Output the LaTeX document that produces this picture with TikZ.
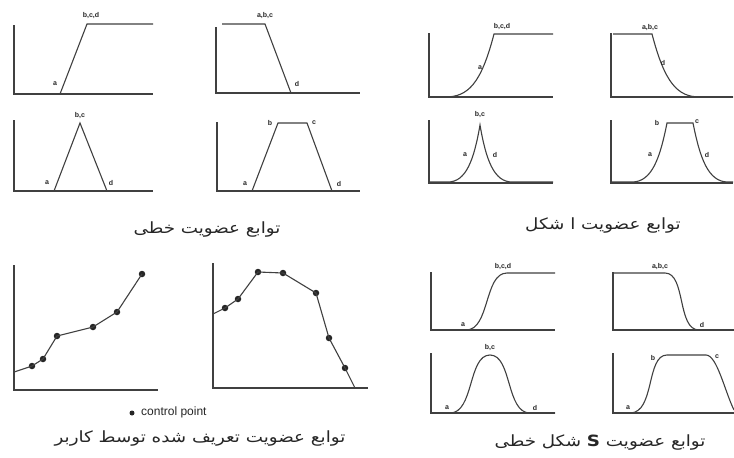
\documentclass[tikz,border=0pt]{standalone}
\usepackage{fontspec}
\usepackage{graphicx}
\setmainfont{Liberation Sans}
\newfontfamily\arabicfont[Script=Arabic]{DejaVu Sans}
\TeXXeTstate=1
\newcommand{\wcap}[1]{\scalebox{1.18}[1]{\beginR #1\endR}}
\begin{document}
\begin{tikzpicture}[x=1pt,y=-1pt,
  axis/.style={draw=black!75, line width=1.1pt},
  curve/.style={draw=black!75, line width=1.1pt},
  lbl/.style={font=\fontsize{7}{7}\selectfont\bfseries, inner sep=0pt, text=black!85},
  capt/.style={font=\arabicfont\fontsize{15.5}{17}\selectfont, inner sep=0pt, text=black!85},
  cp/.style={circle, fill=black!85, minimum size=6.5pt, inner sep=0pt}]
\useasboundingbox (0,0) rectangle (734,458);
\fill[white] (0,0) rectangle (734,458);
% ---------- A: linear ----------
\draw[axis] (14,25) -- (14,94) -- (153,94);
\draw[curve] (60,94) -- (87,24) -- (153,24);
\node[lbl] (a1t) at (91,16) {b,c,d};
\node[lbl] (a1a) at (55,84) {a};
\draw[axis] (216,27) -- (216,93) -- (360,93);
\draw[curve] (222,24) -- (265,24) -- (291,93);
\node[lbl] (a2t) at (265,16) {a,b,c};
\node[lbl] (a2d) at (297,84) {d};
\draw[axis] (14,120) -- (14,191) -- (153,191);
\draw[curve] (54,191) -- (80,123) -- (107,191);
\node[lbl] (a3t) at (80,116) {b,c};
\node[lbl] (a3a) at (47,183) {a};
\node[lbl] (a3d) at (111,183) {d};
\draw[axis] (217,122) -- (217,191) -- (360,191);
\draw[curve] (252,191) -- (278,123) -- (307,123) -- (332,191);
\node[lbl] (a4b) at (270,123) {b};
\node[lbl] (a4c) at (314,123) {c};
\node[lbl] (a4a) at (245,184) {a};
\node[lbl] (a4d) at (339,184) {d};
\node[capt] (capA) at (207,230) {\wcap{توابع عضویت خطی}};
% ---------- B: L-shaped ----------
\draw[axis] (429,33) -- (429,97) -- (553,97);
\draw[curve] (429,97) -- (445,97) .. controls (468,97) and (481,84) .. (494,34) -- (553,34);
\node[lbl] (b1t) at (502,27) {b,c,d};
\node[lbl] (b1a) at (480,68) {a};
\draw[axis] (611,33) -- (611,97) -- (733,97);
\draw[curve] (613,34) -- (652,34) .. controls (665,84) and (678,97) .. (700,97) -- (733,97);
\node[lbl] (b2t) at (650,28) {a,b,c};
\node[lbl] (b2d) at (663,63) {d};
\draw[axis] (429,120) -- (429,183) -- (553,183);
\draw[curve] (429,182) -- (448,182) .. controls (466,182) and (474,160) .. (480,125) .. controls (486,160) and (494,182) .. (512,182) -- (553,182);
\node[lbl] (b3t) at (480,115) {b,c};
\node[lbl] (b3a) at (465,155) {a};
\node[lbl] (b3d) at (495,155) {d};
\draw[axis] (611,120) -- (611,183) -- (733,183);
\draw[curve] (611,182) -- (632,182) .. controls (652,182) and (660,158) .. (667,123) -- (693,123) .. controls (700,158) and (708,182) .. (728,182) -- (733,182);
\node[lbl] (b4b) at (657,123) {b};
\node[lbl] (b4c) at (697,122) {c};
\node[lbl] (b4a) at (650,155) {a};
\node[lbl] (b4d) at (707,155) {d};
\node[capt] (capB) at (603,226) {\wcap{توابع عضویت ا شکل}};
% ---------- C: user defined ----------
\draw[axis] (14,265) -- (14,390) -- (158,390);
\node[cp] (c1) at (32,366) {};
\node[cp] (c2) at (43,359) {};
\node[cp] (c3) at (57,336) {};
\node[cp] (c4) at (93,327) {};
\node[cp] (c5) at (117,312) {};
\node[cp] (c6) at (142,274) {};
\coordinate (c0) at (14,372);
\draw[curve] (c0) -- (c1.center) -- (c2.center) -- (c3.center) -- (c4.center) -- (c5.center) -- (c6.center);
\draw[axis] (213,263) -- (213,388) -- (368,388);
\node[cp] (d1) at (225,308) {};
\node[cp] (d2) at (238,299) {};
\node[cp] (d3) at (258,272) {};
\node[cp] (d4) at (283,273) {};
\node[cp] (d5) at (316,293) {};
\node[cp] (d6) at (329,338) {};
\node[cp] (d7) at (345,368) {};
\coordinate (d0) at (213,314);
\coordinate (d8) at (355,388);
\draw[curve] (d0) -- (d1.center) -- (d2.center) -- (d3.center) -- (d4.center) -- (d5.center) -- (d6.center) -- (d7.center) -- (d8);
\node[cp, minimum size=5pt] (leg) at (132,413) {};
\node[anchor=west, inner sep=0pt, font=\fontsize{12}{14}\selectfont, text=black!85] (legt) at (141,412) {control point};
\node[capt] (capC) at (200,438) {\wcap{توابع عضویت تعریف شده توسط کاربر}};
% ---------- D: S-shaped ----------
\draw[axis] (431,272) -- (431,330) -- (555,330);
\draw[curve] (431,330) -- (466,330) .. controls (490,330) and (484,273) .. (507,273) -- (555,273);
\node[lbl] (d1t) at (503,267) {b,c,d};
\node[lbl] (d1a) at (463,325) {a};
\draw[axis] (613,272) -- (613,330) -- (734,330);
\draw[curve] (613,273) -- (665,273) .. controls (686,273) and (677,330) .. (699,330) -- (734,330);
\node[lbl] (d2t) at (660,267) {a,b,c};
\node[lbl] (d2d) at (702,325) {d};
\draw[axis] (431,353) -- (431,413) -- (555,413);
\draw[curve] (431,413) -- (450,413) .. controls (474,413) and (468,355) .. (490,355) .. controls (512,355) and (506,413) .. (530,413) -- (555,413);
\node[lbl] (d3t) at (490,348) {b,c};
\node[lbl] (d3a) at (447,408) {a};
\node[lbl] (d3d) at (535,408) {d};
\draw[axis] (613,353) -- (613,413) -- (734,413);
\draw[curve] (613,413) -- (630,413) .. controls (655,413) and (646,355) .. (667,355) -- (706,355) .. controls (717,355) and (725,392) .. (734,410);
\node[lbl] (d4b) at (653,358) {b};
\node[lbl] (d4c) at (717,357) {c};
\node[lbl] (d4a) at (628,408) {a};
\node[capt] (capD) at (600,442) {\wcap{توابع عضویت \beginL\textbf{S}\endL{} شکل خطی}};
\end{tikzpicture}
\end{document}
